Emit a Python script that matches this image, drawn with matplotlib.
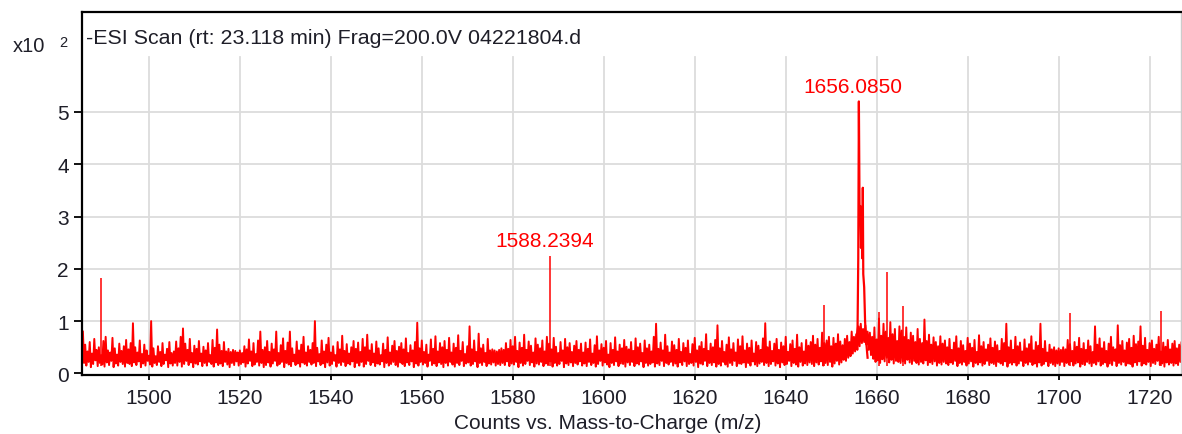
import matplotlib
matplotlib.use("Agg")
import matplotlib.pyplot as plt
import numpy as np

plt.rcParams['font.family'] = ['Liberation Sans', 'DejaVu Sans']

# Scan header / axis text
TITLE = "-ESI Scan (rt: 23.118 min) Frag=200.0V 04221804.d"
X_LABEL = "Counts vs. Mass-to-Charge (m/z)"

# noise trace, one value every 0.25 m/z starting at 1485.5 (x10^2 counts)
# each row below covers 5 m/z
noise_start = 1485.5
noise_step = 0.25
noise_int = [
    0.80, 0.20, 0.55, 0.15, 0.42, 0.22, 0.60, 0.12, 0.38, 0.18, 0.66, 0.25, 0.45, 0.14, 0.50, 0.20, 0.35, 0.17, 0.62, 0.13,
    0.70, 0.21, 0.44, 0.16, 0.40, 0.24, 0.68, 0.12, 0.48, 0.19, 0.36, 0.15, 0.57, 0.22, 0.43, 0.18, 0.52, 0.13, 0.64, 0.20,
    0.46, 0.18, 0.58, 0.14, 0.96, 0.21, 0.50, 0.16, 0.40, 0.23, 0.63, 0.12, 0.37, 0.19, 0.55, 0.15, 0.44, 0.24, 0.34, 0.17,
    1.00, 0.13, 0.48, 0.20, 0.33, 0.16, 0.52, 0.22, 0.41, 0.14, 0.58, 0.18, 0.36, 0.25, 0.47, 0.12, 0.60, 0.19, 0.39, 0.15,
    0.42, 0.20, 0.61, 0.15, 0.48, 0.22, 0.70, 0.13, 0.86, 0.18, 0.57, 0.24, 0.45, 0.16, 0.66, 0.21, 0.39, 0.12, 0.53, 0.19,
    0.47, 0.17, 0.62, 0.23, 0.38, 0.14, 0.51, 0.20, 0.44, 0.15, 0.58, 0.22, 0.35, 0.18, 0.64, 0.13, 0.49, 0.21, 0.84, 0.16,
    0.55, 0.19, 0.43, 0.14, 0.60, 0.22, 0.42, 0.17, 0.47, 0.12, 0.41, 0.20, 0.45, 0.16, 0.43, 0.23, 0.40, 0.15, 0.44, 0.18,
    0.39, 0.21, 0.52, 0.13, 0.46, 0.19, 0.65, 0.24, 0.42, 0.14, 0.58, 0.17, 0.37, 0.22, 0.63, 0.15, 0.80, 0.20, 0.45, 0.12,
    0.50, 0.16, 0.62, 0.21, 0.41, 0.13, 0.57, 0.19, 0.46, 0.24, 0.80, 0.15, 0.39, 0.18, 0.54, 0.22, 0.67, 0.12, 0.43, 0.20,
    0.59, 0.17, 0.80, 0.14, 0.48, 0.23, 0.36, 0.16, 0.61, 0.19, 0.44, 0.13, 0.55, 0.21, 0.70, 0.18, 0.40, 0.15, 0.52, 0.22,
    0.45, 0.17, 0.58, 0.20, 1.00, 0.14, 0.49, 0.23, 0.37, 0.16, 0.63, 0.19, 0.42, 0.12, 0.55, 0.21, 0.68, 0.15, 0.40, 0.18,
    0.52, 0.24, 0.35, 0.13, 0.60, 0.20, 0.46, 0.16, 0.72, 0.22, 0.43, 0.14, 0.56, 0.19, 0.38, 0.17, 0.50, 0.23, 0.62, 0.12,
    0.47, 0.20, 0.59, 0.15, 0.41, 0.22, 0.66, 0.13, 0.50, 0.18, 0.74, 0.24, 0.44, 0.16, 0.56, 0.21, 0.38, 0.14, 0.61, 0.19,
    0.48, 0.17, 0.35, 0.23, 0.57, 0.12, 0.45, 0.20, 0.69, 0.15, 0.40, 0.18, 0.53, 0.22, 0.62, 0.16, 0.43, 0.13, 0.51, 0.21,
    0.58, 0.18, 0.46, 0.14, 0.67, 0.21, 0.39, 0.16, 0.54, 0.23, 0.44, 0.12, 0.60, 0.19, 0.97, 0.15, 0.48, 0.22, 0.63, 0.17,
    0.41, 0.20, 0.55, 0.13, 0.36, 0.24, 0.65, 0.16, 0.47, 0.19, 0.71, 0.14, 0.42, 0.21, 0.58, 0.18, 0.50, 0.12, 0.62, 0.20,
    0.45, 0.15, 0.68, 0.22, 0.40, 0.17, 0.57, 0.13, 0.49, 0.20, 0.73, 0.16, 0.43, 0.24, 0.60, 0.14, 0.37, 0.19, 0.52, 0.21,
    0.90, 0.15, 0.46, 0.18, 0.63, 0.23, 0.41, 0.12, 0.76, 0.20, 0.48, 0.16, 0.55, 0.22, 0.39, 0.14, 0.66, 0.19, 0.44, 0.17,
    0.46, 0.21, 0.44, 0.15, 0.42, 0.18, 0.45, 0.16, 0.48, 0.20, 0.45, 0.16, 0.58, 0.23, 0.47, 0.14, 0.64, 0.19, 0.52, 0.17,
    0.70, 0.22, 0.43, 0.12, 0.59, 0.20, 0.49, 0.15, 0.74, 0.18, 0.45, 0.24, 0.61, 0.16, 0.53, 0.21, 0.40, 0.13, 0.67, 0.19,
    0.55, 0.17, 0.48, 0.22, 0.63, 0.14, 0.42, 0.19, 0.70, 0.16, 0.57, 0.23, 0.46, 0.13, 0.68, 0.20, 0.51, 0.15, 0.39, 0.18,
    0.60, 0.24, 0.44, 0.12, 0.66, 0.19, 0.50, 0.16, 0.58, 0.21, 0.41, 0.14, 0.53, 0.20, 0.62, 0.17, 0.45, 0.23, 0.57, 0.15,
    0.40, 0.19, 0.59, 0.14, 0.47, 0.22, 0.65, 0.16, 0.38, 0.20, 0.54, 0.13, 0.71, 0.18, 0.44, 0.24, 0.56, 0.15, 0.49, 0.21,
    0.62, 0.17, 0.36, 0.12, 0.58, 0.20, 0.45, 0.16, 0.69, 0.23, 0.42, 0.14, 0.55, 0.19, 0.48, 0.18, 0.64, 0.13, 0.51, 0.21,
    0.46, 0.16, 0.60, 0.22, 0.43, 0.14, 0.67, 0.19, 0.50, 0.17, 0.57, 0.23, 0.39, 0.12, 0.63, 0.20, 0.48, 0.15, 0.55, 0.18,
    0.42, 0.21, 0.70, 0.13, 0.95, 0.19, 0.47, 0.16, 0.59, 0.24, 0.44, 0.14, 0.74, 0.20, 0.52, 0.17, 0.40, 0.22, 0.61, 0.15,
    0.54, 0.19, 0.45, 0.13, 0.66, 0.21, 0.41, 0.16, 0.58, 0.23, 0.49, 0.14, 0.63, 0.18, 0.37, 0.20, 0.56, 0.15, 0.68, 0.22,
    0.44, 0.12, 0.52, 0.19, 0.60, 0.17, 0.47, 0.24, 0.75, 0.14, 0.43, 0.20, 0.57, 0.16, 0.50, 0.21, 0.64, 0.13, 0.92, 0.18,
    0.48, 0.15, 0.62, 0.22, 0.41, 0.17, 0.55, 0.13, 0.69, 0.20, 0.46, 0.16, 0.58, 0.24, 0.40, 0.14, 0.65, 0.19, 0.52, 0.18,
    0.71, 0.21, 0.44, 0.12, 0.57, 0.20, 0.49, 0.15, 0.63, 0.23, 0.38, 0.17, 0.60, 0.14, 0.53, 0.19, 0.45, 0.22, 0.67, 0.16,
    0.96, 0.20, 0.50, 0.14, 0.61, 0.18, 0.43, 0.23, 0.57, 0.15, 0.66, 0.19, 0.45, 0.12, 0.59, 0.21, 0.52, 0.16, 0.70, 0.18,
    0.41, 0.24, 0.56, 0.14, 0.63, 0.20, 0.47, 0.17, 0.74, 0.13, 0.50, 0.22, 0.58, 0.15, 0.42, 0.19, 0.64, 0.16, 0.53, 0.21,
    0.60, 0.18, 0.72, 0.14, 0.55, 0.21, 0.66, 0.17, 0.49, 0.23, 0.78, 0.15, 0.58, 0.20, 0.63, 0.16, 0.70, 0.22, 0.52, 0.13,
    0.68, 0.19, 0.57, 0.24, 0.75, 0.17, 0.61, 0.21, 0.54, 0.26, 0.66, 0.24, 0.72, 0.30, 0.60, 0.33, 0.80, 0.38, 0.70, 0.42,
    0.75, 0.45, 0.90, 0.52, 0.95, 0.58, 0.85, 0.60, 0.92, 0.55, 0.80, 0.45, 0.78, 0.35, 0.70, 0.28, 0.88, 0.22, 0.65, 0.25,
    1.05, 0.20, 0.72, 0.27, 0.95, 0.23, 0.80, 0.30, 0.68, 0.21, 0.98, 0.26, 0.75, 0.19, 0.85, 0.24, 0.62, 0.22, 0.90, 0.20,
    0.82, 0.23, 0.70, 0.19, 0.88, 0.26, 0.64, 0.21, 0.78, 0.18, 0.72, 0.24, 0.60, 0.20, 0.85, 0.17, 0.66, 0.22, 0.58, 0.19,
    1.03, 0.25, 0.62, 0.16, 0.74, 0.21, 0.55, 0.18, 0.69, 0.23, 0.60, 0.15, 0.52, 0.20, 0.71, 0.17, 0.57, 0.22, 0.63, 0.19,
    0.50, 0.16, 0.66, 0.21, 0.45, 0.18, 0.59, 0.24, 0.71, 0.14, 0.48, 0.20, 0.62, 0.17, 0.54, 0.22, 0.43, 0.15, 0.68, 0.19,
    0.57, 0.23, 0.49, 0.13, 0.64, 0.20, 0.41, 0.17, 0.73, 0.21, 0.52, 0.15, 0.60, 0.18, 0.46, 0.24, 0.55, 0.16, 0.67, 0.20,
    0.49, 0.18, 0.61, 0.14, 0.54, 0.22, 0.43, 0.19, 0.66, 0.16, 0.58, 0.23, 0.95, 0.13, 0.50, 0.20, 0.63, 0.17, 0.45, 0.21,
    0.70, 0.15, 0.52, 0.19, 0.59, 0.24, 0.42, 0.14, 0.65, 0.20, 0.48, 0.17, 0.56, 0.22, 0.71, 0.16, 0.44, 0.19, 0.60, 0.13,
    0.53, 0.21, 0.95, 0.15, 0.47, 0.18, 0.62, 0.23, 0.40, 0.14, 0.55, 0.20, 0.46, 0.17, 0.50, 0.14, 0.44, 0.19, 0.48, 0.16,
    0.45, 0.22, 0.50, 0.14, 0.46, 0.20, 0.64, 0.17, 0.56, 0.23, 0.43, 0.15, 0.60, 0.19, 0.51, 0.21, 0.68, 0.13, 0.47, 0.18,
    0.58, 0.16, 0.45, 0.22, 0.63, 0.19, 0.52, 0.14, 0.41, 0.20, 0.90, 0.17, 0.55, 0.23, 0.67, 0.15, 0.48, 0.18, 0.60, 0.21,
    0.43, 0.13, 0.57, 0.19, 0.70, 0.16, 0.50, 0.24, 0.46, 0.14, 0.92, 0.20, 0.54, 0.17, 0.62, 0.22, 0.44, 0.15, 0.59, 0.19,
    0.66, 0.18, 0.49, 0.13, 0.72, 0.21, 0.56, 0.16, 0.61, 0.23, 0.90, 0.15, 0.53, 0.19, 0.68, 0.17, 0.45, 0.22, 0.58, 0.14,
    0.63, 0.20, 0.47, 0.18, 0.55, 0.24, 0.70, 0.16, 0.42, 0.19, 0.59, 0.13, 0.51, 0.21, 0.64, 0.17, 0.46, 0.20, 0.57, 0.15,
    0.62, 0.19, 0.48, 0.16, 0.55, 0.22, 0.60, 0.18,
]

# profile of the base peak
main_mz = [1655.5, 1655.8, 1655.95, 1656.085, 1656.25, 1656.4, 1656.55, 1656.7, 1656.85, 1656.95,
           1657.05, 1657.25, 1657.45, 1657.7, 1658.0]
main_int = [0.5, 0.9, 2.2, 5.2, 2.9, 3.2, 2.4, 3.0, 2.2, 3.55,
            1.9, 1.65, 1.0, 0.6, 0.3]

# isolated tall spikes
spike_mz = [1489.4, 1588.2394, 1648.4, 1660.4, 1662.2, 1665.8, 1702.6, 1722.6]
spike_int = [1.83, 2.25, 1.30, 1.17, 1.93, 1.28, 1.15, 1.19]

# labelled peaks
label_mz = [1588.2394, 1656.0850]
label_int = [2.25, 5.2]

x_ticks = [1500, 1520, 1540, 1560, 1580, 1600, 1620, 1640, 1660, 1680, 1700, 1720]
y_ticks = [0, 1, 2, 3, 4, 5]

W, H = 1182, 435
fig = plt.figure(figsize=(W / 100, H / 100), dpi=100)
ax = fig.add_axes([82 / W, 1 - 376 / H, 1099 / W, 363 / H])

text_col = "#1e1e28"
grid_col = "#dcdcdc"
ymin, ymax = -0.03, 6.91

# grid: horizontal lines full width, vertical ones stop below the header
for y in y_ticks[1:]:
    ax.axhline(y, color=grid_col, lw=1.3, zorder=0)
for x in x_ticks:
    ax.axvline(x, ymin=0, ymax=(6.05 - ymin) / (ymax - ymin), color=grid_col, lw=1.3, zorder=0)

noise_mz = noise_start + noise_step * np.arange(len(noise_int))
ax.plot(noise_mz, noise_int, color="#ff0000", lw=1.4, zorder=2)
ax.plot(main_mz, main_int, color="#ff0000", lw=1.6, zorder=3)
ax.vlines(spike_mz, 0.15, spike_int, color="#ff0000", lw=1.1, zorder=3)

for mz, h in zip(label_mz, label_int):
    ax.annotate(f"{mz:.4f}", (mz, h), xytext=(-4, 4), textcoords="offset points",
                ha="center", va="bottom", color="#ff0000", fontsize=15)

ax.set_xlim(1485.3, 1726.9)
ax.set_ylim(ymin, ymax)
ax.set_xticks(x_ticks)
ax.set_yticks(y_ticks)
ax.tick_params(axis="x", direction="out", length=3.5, width=1.3, pad=6,
               labelsize=15, colors="black", labelcolor=text_col)
ax.tick_params(axis="y", direction="out", length=5.5, width=1.3, pad=4,
               labelsize=15, colors="black", labelcolor=text_col)

for side in ("left", "top", "bottom"):
    ax.spines[side].set_linewidth(1.6)
    ax.spines[side].set_color("black")
ax.spines["right"].set_color("#cccccc")
ax.spines["right"].set_linewidth(1.0)

ax.text(4 / 1099, 0.931, TITLE, fontsize=15.4, color=text_col, ha="left", va="center",
        transform=ax.transAxes)
fig.text(608 / W, 1 - 424 / H, X_LABEL, fontsize=15, color=text_col, ha="center", va="center")
fig.text(13 / W, 1 - 47 / H, "x10", fontsize=14.5, color=text_col, ha="left", va="center")
fig.text(59 / W, 1 - 43 / H, "2", fontsize=10.5, color=text_col, ha="left", va="center")

fig.savefig("out.png", dpi=100)
